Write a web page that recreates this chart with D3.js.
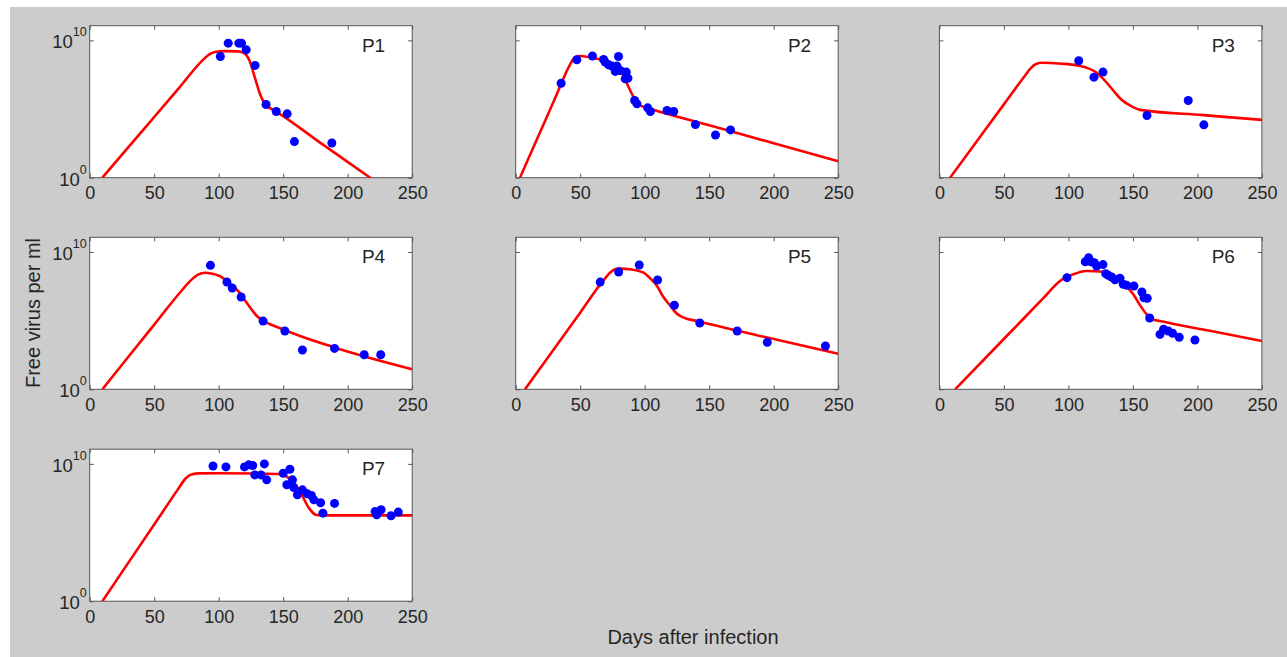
<!DOCTYPE html>
<html>
<head>
<meta charset="utf-8">
<script src="https://cdn.jsdelivr.net/npm/d3@7"></script>
<style>
  body { margin: 0; background: #fff; }
  text { font-family: "Liberation Sans", Arial, Helvetica, sans-serif; fill: #262626; }
</style>
</head>
<body>
<div id="chart"></div>
<script>
//virus load fits for 7 patients, small multiples on a log scale

var patients = ["P1", "P2", "P3", "P4", "P5", "P6", "P7"];
var xTicks = [0, 50, 100, 150, 200, 250];
var yTicks = [0, 10];        //exponents shown as 10^0 and 10^10

//model fit: [day, log10 virus per ml]
var p1Fit = [[9.8,0],[30,2.22],[50,4.42],[70,6.62],[88,8.6],[93,9.0],[98,9.17],[105,9.22],[115,9.2],[120,9.05],[124,8.5],[128,7.3],[132,6.1],[136,5.35],[141,5.0],[145,4.78],[180,2.46],[217.5,0],[230,-0.83]];
var p2Fit = [[3.3,0],[15,2.49],[30,5.67],[42,8.22],[45,8.68],[48,8.84],[50,8.86],[60,8.72],[75.4,8.3],[79.8,8.05],[84,7.3],[88.8,6.35],[93,5.6],[96.6,5.26],[101.8,5.09],[150,3.82],[200,2.51],[250,1.19]];
var p3Fit = [[8.3,0],[30,2.78],[50,5.34],[66,7.39],[71,8.0],[75,8.28],[79.3,8.37],[95,8.3],[106.4,8.18],[115,7.98],[120,7.76],[127,7.2],[134.8,6.35],[141,5.7],[147.7,5.26],[155.5,4.94],[204.5,4.56],[250,4.21]];
var p4Fit = [[9.8,0],[30,2.37],[50,4.71],[70,7.05],[78,7.9],[84,8.35],[89.2,8.49],[95,8.42],[100.8,8.25],[108,7.75],[116.2,7.04],[121,6.4],[126.4,5.7],[130,5.3],[134.1,5.02],[149.5,4.37],[187.9,3.1],[250,1.46]];
var p5Fit = [[7.2,0],[30,2.97],[50,5.58],[68,7.93],[73.3,8.5],[77,8.74],[80,8.79],[90,8.72],[99.2,8.49],[104,8.1],[109.6,7.52],[114,6.8],[119.9,6.07],[125,5.5],[130.2,5.22],[140.6,4.97],[192.4,3.82],[250,2.59]];
var p6Fit = [[12.2,0],[40,2.7],[60,4.64],[80,6.58],[93.5,7.89],[103.8,8.38],[114.2,8.62],[127,8.56],[134,8.35],[140,8.01],[145,7.5],[150.3,6.92],[155,6.2],[160.7,5.46],[165,5.1],[171,4.97],[209.7,4.26],[250,3.52]];
var p7Fit = [[9.8,0],[30,2.81],[50,5.59],[68,8.09],[74,8.9],[78,9.2],[84,9.31],[100,9.32],[146.9,9.26],[154.6,8.96],[162.3,8.11],[170,6.78],[175.1,6.3],[180,6.25],[250,6.25]];

//measured points: [day, log10 virus per ml]
var p1Obs = [[101.3,8.83],[107.4,9.8],[115.6,9.8],[117.7,9.8],[121.3,9.32],[128.2,8.18],[136.7,5.33],[144.6,4.82],[153.1,4.65],[158.7,2.63],[187.7,2.53]];
var p2Obs = [[35.2,6.88],[47.4,8.59],[59.5,8.86],[68.1,8.61],[69.4,8.42],[72,8.22],[74.6,8.13],[77.2,7.74],[78.5,8.13],[79.7,8.83],[81,7.81],[84.9,7.2],[85.7,7.69],[87,7.25],[92.2,5.62],[94,5.38],[102.3,5.09],[104.4,4.82],[117.3,4.89],[122.5,4.82],[139.3,3.87],[154.9,3.11],[166.5,3.48]];
var p3Obs = [[108,8.52],[119.8,7.32],[126.8,7.69],[160.9,4.53],[192.9,5.62],[205,3.85]];
var p4Obs = [[93.6,9.03],[106.4,7.81],[110.5,7.38],[117.4,6.72],[134.4,4.97],[151.3,4.25],[164.9,2.86],[189.8,2.98],[212.8,2.52],[225.6,2.52]];
var p5Obs = [[65.5,7.81],[79.8,8.54],[95.8,9.05],[110,7.96],[123,6.12],[142.7,4.83],[171.7,4.25],[195,3.42],[240.1,3.15]];
var p6Obs = [[98.9,8.13],[113.1,9.29],[115.7,9.58],[117.5,9.29],[120.1,9.22],[121.9,8.98],[126.8,9.08],[128.9,8.42],[130.9,8.3],[133.5,8.18],[136.1,7.98],[140,8.08],[142.5,7.65],[145.2,7.57],[150.8,7.52],[157,7.09],[158.6,6.67],[161.1,6.63],[163,5.19],[171,4.0],[173.8,4.37],[177.4,4.25],[180.8,4.08],[185.9,3.79],[198.1,3.59]];
var p7Obs = [[95.6,9.85],[105.6,9.78],[120,9.78],[123.3,9.93],[126.4,9.88],[128,9.2],[132.8,9.2],[135.4,10.0],[137.2,8.84],[150,9.32],[152.8,8.48],[155.2,9.61],[157.2,8.84],[158.2,8.28],[161,7.75],[164.9,8.11],[168.7,7.82],[171.8,7.7],[173.8,7.38],[179,7.17],[180.8,6.41],[189.8,7.12],[221.3,6.54],[222.5,6.3],[225.9,6.66],[233.6,6.22],[239.2,6.49]];

var fits = [p1Fit, p2Fit, p3Fit, p4Fit, p5Fit, p6Fit, p7Fit];
var obs = [p1Obs, p2Obs, p3Obs, p4Obs, p5Obs, p6Obs, p7Obs];

var w = 1287,
    h = 657;

var svg = d3.select("#chart").append("svg")
    .attr("width", w)
    .attr("height", h);

//gray figure background
svg.append("rect")
    .attr("x", 10)
    .attr("y", 7)
    .attr("width", w - 10)
    .attr("height", h - 7)
    .attr("fill", "#cccccc");

var pw = 322.5,
    ph = 152;
var colX = [89.7, 515.7, 939.4];
var rowY = [25.7, 237.3, 449.2];

var x = d3.scaleLinear().domain([0, 250]).range([0, pw]);
var y = d3.scaleLog().domain([1, Math.pow(10, 11.07)]).range([ph, 0]);

var line = d3.line()
    .x(function(d) { return x(d[0]); })
    .y(function(d) { return y(Math.pow(10, d[1])); })
    .curve(d3.curveMonotoneX);

patients.forEach(function(name, i) {
  var col = i % 3,
      row = Math.floor(i / 3);
  var g = svg.append("g")
      .attr("transform", "translate(" + colX[col] + "," + rowY[row] + ")");

  g.append("rect")
      .attr("width", pw)
      .attr("height", ph)
      .attr("fill", "#fff");

  g.append("clipPath")
      .attr("id", "clip" + i)
    .append("rect")
      .attr("width", pw)
      .attr("height", ph);

  //bottom axis with labels, top axis with inner ticks only
  var bottom = g.append("g")
      .attr("transform", "translate(0," + ph + ")")
      .call(d3.axisBottom(x).tickValues(xTicks).tickSizeInner(-4).tickSizeOuter(0).tickPadding(9));
  bottom.selectAll("text")
      .attr("font-size", 18)
      .attr("dy", "0.71em");

  g.append("g")
      .call(d3.axisTop(x).tickValues(xTicks).tickSizeInner(-4).tickSizeOuter(0).tickFormat(""));

  //left and right inner ticks
  g.append("g")
      .call(d3.axisLeft(y).tickValues(yTicks.map(function(e) { return Math.pow(10, e); })).tickSizeInner(-4).tickSizeOuter(0).tickFormat(""));
  g.append("g")
      .attr("transform", "translate(" + pw + ",0)")
      .call(d3.axisRight(y).tickValues(yTicks.map(function(e) { return Math.pow(10, e); })).tickSizeInner(-4).tickSizeOuter(0).tickFormat(""));

  g.selectAll(".domain").remove();
  g.selectAll(".tick line").attr("stroke", "#555");
  g.selectAll(".tick text").attr("fill", "#262626").attr("font-family", "Liberation Sans, Arial, sans-serif");

  //box
  g.append("rect")
      .attr("width", pw)
      .attr("height", ph)
      .attr("fill", "none")
      .attr("stroke", "#555")
      .attr("stroke-width", 1);

  //y tick labels on the first column only
  if (col === 0) {
    yTicks.forEach(function(e) {
      var t = g.append("text")
          .attr("x", -3)
          .attr("y", y(Math.pow(10, e)) + 8)
          .attr("text-anchor", "end")
          .attr("font-size", 18.5);
      t.append("tspan").text("10");
      t.append("tspan")
          .attr("dy", -12)
          .attr("font-size", 12.5)
          .text(e);
    });
  }

  //fitted curve
  g.append("path")
      .datum(fits[i])
      .attr("clip-path", "url(#clip" + i + ")")
      .attr("d", line)
      .attr("fill", "none")
      .attr("stroke", "#ff0000")
      .attr("stroke-width", 2.6);

  //data points
  g.selectAll("circle.obs")
      .data(obs[i])
    .enter().append("circle")
      .attr("class", "obs")
      .attr("cx", function(d) { return x(d[0]); })
      .attr("cy", function(d) { return y(Math.pow(10, d[1])); })
      .attr("r", 4.5)
      .attr("fill", "#0000ff");

  //panel name
  g.append("text")
      .attr("x", pw - 27)
      .attr("y", 26)
      .attr("text-anchor", "end")
      .attr("font-size", 19)
      .text(name);
});

//shared axis titles
svg.append("text")
    .attr("x", 693)
    .attr("y", 644)
    .attr("text-anchor", "middle")
    .attr("font-size", 20)
    .text("Days after infection");

svg.append("text")
    .attr("transform", "translate(40,313) rotate(-90)")
    .attr("text-anchor", "middle")
    .attr("font-size", 20)
    .text("Free virus per ml");
</script>
</body>
</html>
